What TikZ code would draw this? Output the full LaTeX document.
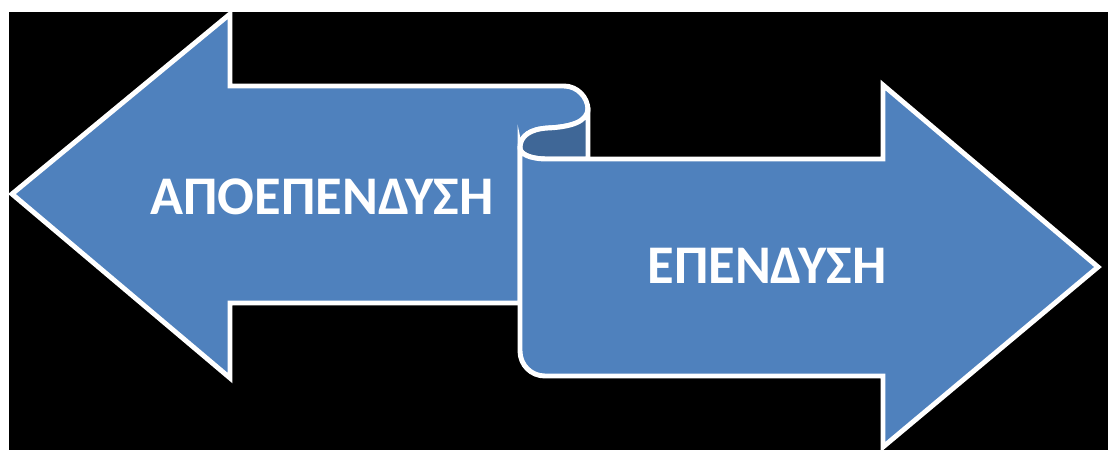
\documentclass[tikz,border=0pt]{standalone}
\usepackage{fontspec}
\setmainfont{Carlito}
\definecolor{ribbonblue}{HTML}{4F81BD}
\definecolor{ribbondark}{HTML}{3F6797}
\begin{document}
\begin{tikzpicture}[x=0.02cm,y=-0.02cm,
  shapestyle/.style={fill=ribbonblue,draw=white,line width=2.8pt,line join=miter},
  backstyle/.style={fill=ribbondark,draw=white,line width=2.8pt,line join=round},
  labelstyle/.style={text=white,font=\fontsize{31}{36}\selectfont\bfseries,inner sep=0pt}]
\useasboundingbox (0,0) rectangle (1108,450);
\fill[white] (0,0) rectangle (1108,450);
\fill[black] (9,12) rectangle (1108,450);
% left arrow
\draw[shapestyle] (12,194) -- (230,14) -- (230,86) -- (564,86)
  .. controls (577,86) and (588,97) .. (588,110)
  .. controls (588,122) and (570,127) .. (548,128)
  .. controls (530,129) and (520,136) .. (520,148)
  -- (520,303) -- (230,303) -- (230,378) -- cycle;
% back side of the curl
\draw[backstyle] (588,108)
  .. controls (588,122) and (570,127) .. (548,128)
  .. controls (530,129) and (520,136) .. (520,148)
  .. controls (520,154) and (530,159) .. (547,159)
  -- (588,159) -- cycle;
% right arrow
\draw[shapestyle] (520,148) -- (520,351)
  .. controls (520,365) and (531,376) .. (545,376)
  -- (883,376) -- (883,447) -- (1098,267) -- (883,85) -- (883,159)
  -- (547,159)
  .. controls (530,159) and (520,154) .. (520,148) -- cycle;
\node[labelstyle] (divest) at (322,196.5) {ΑΠΟΕΠΕΝΔΥΣΗ};
\node[labelstyle] (invest) at (767,265.5) {ΕΠΕΝΔΥΣΗ};
\end{tikzpicture}
\end{document}
